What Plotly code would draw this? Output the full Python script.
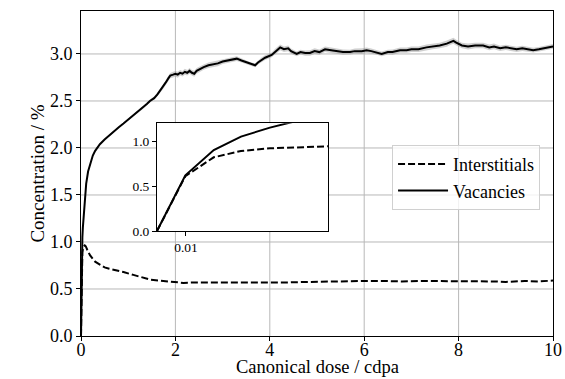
import plotly.graph_objects as go

# ---- data ----
dose_vac = [
    0, 0.0098, 0.0196, 0.029, 0.039, 0.049, 0.065, 0.085, 0.11, 0.15,
    0.2, 0.25, 0.3, 0.34, 0.4, 0.5, 0.61, 0.7, 0.8, 0.9,
    1.0, 1.11, 1.2, 1.3, 1.4, 1.46, 1.55, 1.62, 1.68, 1.74,
    1.8, 1.85, 1.89, 1.95, 2.0, 2.05, 2.1, 2.15, 2.2, 2.25,
    2.3, 2.35, 2.4, 2.45, 2.52, 2.6, 2.7, 2.8, 2.9, 3.0,
    3.1, 3.2, 3.3, 3.4, 3.5, 3.6, 3.69, 3.75, 3.83, 3.9,
    4.04, 4.12, 4.22, 4.3, 4.39, 4.45, 4.57, 4.65, 4.75, 4.85,
    4.95, 5.05, 5.17, 5.3, 5.45, 5.55, 5.70, 5.8, 5.95, 6.05,
    6.15, 6.25, 6.37, 6.5, 6.6, 6.76, 6.9, 7.0, 7.15, 7.32,
    7.45, 7.6, 7.75, 7.83, 7.89, 7.95, 8.07, 8.2, 8.35, 8.52,
    8.65, 8.75, 8.88, 9.0, 9.1, 9.23, 9.35, 9.45, 9.58, 9.7,
    9.8, 9.9, 9.97, 10.0,
]
conc_vac = [
    0, 0.62, 0.90, 1.05, 1.15, 1.23, 1.38, 1.50, 1.62, 1.75,
    1.85, 1.92, 1.97, 2.00, 2.04, 2.09, 2.14, 2.18, 2.22, 2.26,
    2.30, 2.35, 2.38, 2.42, 2.47, 2.50, 2.53, 2.57, 2.61, 2.65,
    2.70, 2.74, 2.77, 2.78, 2.79, 2.78, 2.80, 2.79, 2.81, 2.80,
    2.82, 2.80, 2.79, 2.82, 2.84, 2.86, 2.88, 2.89, 2.90, 2.92,
    2.93, 2.94, 2.95, 2.93, 2.91, 2.89, 2.88, 2.91, 2.94, 2.96,
    2.99, 3.03, 3.07, 3.05, 3.06, 3.03, 3.00, 3.02, 3.01, 3.01,
    3.03, 3.02, 3.05, 3.04, 3.03, 3.02, 3.02, 3.03, 3.03, 3.04,
    3.03, 3.02, 3.00, 3.02, 3.02, 3.04, 3.04, 3.05, 3.05, 3.07,
    3.08, 3.09, 3.11, 3.13, 3.14, 3.12, 3.09, 3.08, 3.09, 3.09,
    3.07, 3.08, 3.06, 3.07, 3.06, 3.05, 3.06, 3.05, 3.04, 3.05,
    3.06, 3.07, 3.08, 3.08,
]
spread_vac = [
    0, 0, 0, 0, 0, 0, 0.005, 0.005, 0.005, 0.005,
    0.008, 0.008, 0.008, 0.008, 0.008, 0.008, 0.008, 0.008, 0.008, 0.008,
    0.01, 0.01, 0.012, 0.012, 0.015, 0.015, 0.018, 0.02, 0.02, 0.022,
    0.025, 0.025, 0.028, 0.03, 0.03, 0.032, 0.03, 0.03, 0.032, 0.03,
    0.03, 0.03, 0.032, 0.03, 0.03, 0.028, 0.028, 0.03, 0.03, 0.028,
    0.028, 0.026, 0.025, 0.022, 0.02, 0.02, 0.02, 0.022, 0.025, 0.025,
    0.025, 0.028, 0.03, 0.03, 0.03, 0.028, 0.025, 0.025, 0.028, 0.03,
    0.03, 0.028, 0.03, 0.03, 0.028, 0.028, 0.025, 0.028, 0.03, 0.03,
    0.028, 0.025, 0.025, 0.025, 0.028, 0.028, 0.028, 0.03, 0.03, 0.03,
    0.03, 0.03, 0.032, 0.032, 0.032, 0.03, 0.03, 0.032, 0.03, 0.03,
    0.03, 0.03, 0.028, 0.028, 0.03, 0.028, 0.028, 0.025, 0.025, 0.025,
    0.025, 0.025, 0.025, 0.025,
]
dose_int = [
    0, 0.0098, 0.0196, 0.029, 0.039, 0.049, 0.059, 0.08, 0.1, 0.13,
    0.19, 0.25, 0.3, 0.4, 0.5, 0.6, 0.76, 0.9, 1.11, 1.3,
    1.46, 1.65, 1.82, 2.0, 2.17, 2.45, 2.8, 3.2, 3.6, 4.0,
    4.4, 4.8, 5.2, 5.6, 6.0, 6.4, 6.8, 7.2, 7.6, 8.0,
    8.4, 8.8, 9.0, 9.4, 9.7, 10.0,
]
conc_int = [
    0, 0.61, 0.82, 0.89, 0.92, 0.94, 0.955, 0.965, 0.955, 0.92,
    0.86, 0.82, 0.79, 0.76, 0.73, 0.715, 0.70, 0.68, 0.65, 0.62,
    0.60, 0.59, 0.58, 0.57, 0.565, 0.57, 0.57, 0.57, 0.565, 0.565,
    0.57, 0.575, 0.58, 0.58, 0.585, 0.585, 0.58, 0.585, 0.585, 0.585,
    0.585, 0.58, 0.575, 0.585, 0.58, 0.59,
]
main_yticks = [0.0, 0.5, 1.0, 1.5, 2.0, 2.5, 3.0]
main_xticks = [0, 2, 4, 6, 8, 10]
inset_yticks = [0.0, 0.5, 1.0]
inset_xticks = [0.01]
x_title = "Canonical dose / cdpa"
y_title = "Concentration / %"

FONT = "Liberation Serif, Times New Roman, Times, DejaVu Serif, serif"
GRID = "#b8b8b8"
upper = [c + s for c, s in zip(conc_vac, spread_vac)]
lower = [c - s for c, s in zip(conc_vac, spread_vac)]

fig = go.Figure()
# uncertainty band
fig.add_trace(go.Scatter(x=dose_vac, y=upper, mode="lines", line=dict(width=0),
                         showlegend=False, hoverinfo="skip"))
fig.add_trace(go.Scatter(x=dose_vac, y=lower, mode="lines", line=dict(width=0),
                         fill="tonexty", fillcolor="rgba(150,150,150,0.45)",
                         showlegend=False, hoverinfo="skip"))
fig.add_trace(go.Scatter(x=dose_int, y=conc_int, mode="lines", name="Interstitials",
                         line=dict(color="black", width=2, dash="7px,3px")))
fig.add_trace(go.Scatter(x=dose_vac, y=conc_vac, mode="lines", name="Vacancies",
                         line=dict(color="black", width=2)))
# inset
fig.add_trace(go.Scatter(x=dose_int, y=conc_int, mode="lines", showlegend=False,
                         line=dict(color="black", width=2, dash="7px,3px"),
                         xaxis="x2", yaxis="y2"))
fig.add_trace(go.Scatter(x=dose_vac, y=conc_vac, mode="lines", showlegend=False,
                         line=dict(color="black", width=2),
                         xaxis="x2", yaxis="y2"))

axis_common = dict(showline=True, linecolor="black", linewidth=1, mirror=True,
                   ticks="outside", ticklen=4, tickcolor="black", zeroline=False,
                   showgrid=False, automargin=False)

# grid lines at the main tick positions (drawn beneath traces and the inset)
grid_shapes = []
for xv in main_xticks[1:-1]:
    grid_shapes.append(dict(type="line", xref="x", yref="y domain", x0=xv, x1=xv, y0=0, y1=1,
                            line=dict(color=GRID, width=1), layer="below"))
for yv in main_yticks[1:]:
    grid_shapes.append(dict(type="line", xref="x domain", yref="y", x0=0, x1=1, y0=yv, y1=yv,
                            line=dict(color=GRID, width=1), layer="below"))

fig.update_layout(
    width=565, height=379,
    margin=dict(l=81, r=12, t=11, b=43),
    paper_bgcolor="white", plot_bgcolor="white",
    font=dict(family=FONT, size=18, color="black"),
    xaxis=dict(range=[0, 10], tickvals=main_xticks, ticktext=[str(v) for v in main_xticks],
               ticklabelstandoff=-7, **axis_common),
    yaxis=dict(range=[0, 3.457], tickvals=main_yticks,
               ticktext=[f"{v:.1f}" for v in main_yticks],
               **axis_common),
    xaxis2=dict(domain=[0.161, 0.523], anchor="y2", range=[0, 0.059],
                tickvals=inset_xticks, ticktext=["0.01"],
                tickfont=dict(size=13.5), **axis_common),
    yaxis2=dict(domain=[0.323, 0.655], anchor="x2", range=[0, 1.2],
                tickvals=inset_yticks, ticktext=[f"{v:.1f}" for v in inset_yticks],
                tickfont=dict(size=13.5), **axis_common),
    legend=dict(x=0.659, y=0.588, xanchor="left", yanchor="top", traceorder="normal",
                bgcolor="rgba(255,255,255,0.8)", bordercolor="#d0d0d0", borderwidth=1,
                font=dict(size=18), itemwidth=50, tracegroupgap=2),
    shapes=grid_shapes,
    annotations=[
        dict(text=x_title, xref="paper", yref="paper", x=0.501, y=-0.1323,
             xanchor="center", yanchor="bottom", showarrow=False, font=dict(size=18.5)),
        dict(text=y_title, xref="paper", yref="paper", x=-0.093, y=0.5,
             xanchor="center", yanchor="middle", textangle=-90, showarrow=False,
             font=dict(size=19)),
    ],
)

fig.write_html("out.html")
